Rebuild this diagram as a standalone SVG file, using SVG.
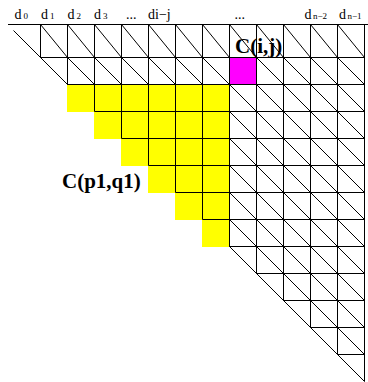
<svg xmlns="http://www.w3.org/2000/svg" width="368" height="382" viewBox="0 0 368 382">
<style>
.ln{fill:none;stroke:#000;stroke-width:1}
.lab{font-family:"Liberation Serif","Times New Roman",serif;font-size:14px;fill:#000}
.sub{font-size:9px}
.big{font-family:"Liberation Serif","Times New Roman",serif;font-size:21px;font-weight:bold;fill:#000}
</style>
<rect width="368" height="382" fill="#fff"/>
<g id="connectors">
<path id="diagonals" class="ln" d="M40.5 24.5L67.5 57.5L364.5 354.5M67.5 24.5L94.5 57.5L364.5 327.5M94.5 24.5L121.5 57.5L364.5 300.5M121.5 24.5L148.5 57.5L364.5 273.5M148.5 24.5L175.5 57.5L364.5 246.5M175.5 24.5L202.5 57.5L364.5 219.5M202.5 24.5L229.5 57.5L364.5 192.5M229.5 24.5L256.5 57.5L364.5 165.5M256.5 24.5L283.5 57.5L364.5 138.5M283.5 24.5L310.5 57.5L364.5 111.5M310.5 24.5L337.5 57.5L364.5 84.5M337.5 24.5L364.5 57.5M13.5 30.5L364.5 381.5"/>
</g>
<g id="region-p1q1">
<polygon fill="#ffff00" points="67,85 229,85 229,247 202,247 202,220 175,220 175,193 148,193 148,166 121,166 121,139 94,139 94,112 67,112"/>
</g>
<g id="cell-ij">
<rect x="230" y="58" width="26" height="26" fill="#ff00ff"/>
</g>
<g id="grid">
<path class="ln" d="M8 24.5H368"/>
<path class="ln" d="M40.5 24.5V57.5M67.5 24.5V84.5M94.5 24.5V111.5M121.5 24.5V138.5M148.5 24.5V165.5M175.5 24.5V192.5M202.5 24.5V219.5M229.5 24.5V246.5M256.5 24.5V273.5M283.5 24.5V300.5M310.5 24.5V327.5M337.5 24.5V354.5M364.5 24.5V381.5"/>
<path class="ln" d="M40.5 57.5H364.5M67.5 84.5H364.5M94.5 111.5H364.5M121.5 138.5H364.5M148.5 165.5H364.5M175.5 192.5H364.5M202.5 219.5H364.5M229.5 246.5H364.5M256.5 273.5H364.5M283.5 300.5H364.5M310.5 327.5H364.5M337.5 354.5H364.5"/>
</g>
<g id="labels" transform="rotate(0.01)">
<text class="lab" x="14.5" y="19">d<tspan class="sub" dx="2">0</tspan></text>
<text class="lab" x="41" y="19">d<tspan class="sub" dx="2">1</tspan></text>
<text class="lab" x="67.5" y="19">d<tspan class="sub" dx="2">2</tspan></text>
<text class="lab" x="94" y="19">d<tspan class="sub" dx="2">3</tspan></text>
<text class="lab" x="126" y="19">...</text>
<text class="lab" x="148" y="19">di−j</text>
<text class="lab" x="234.5" y="19">...</text>
<text class="lab" x="304.5" y="19">d<tspan class="sub" dx="1.5">n−2</tspan></text>
<text class="lab" x="339" y="19">d<tspan class="sub" dx="1.5">n−1</tspan></text>
</g>
<g id="titles">
<text class="big" x="235" y="52.5">C(i,j)</text>
<text class="big" x="62" y="187.5">C(p1,q1)</text>
</g>
</svg>
